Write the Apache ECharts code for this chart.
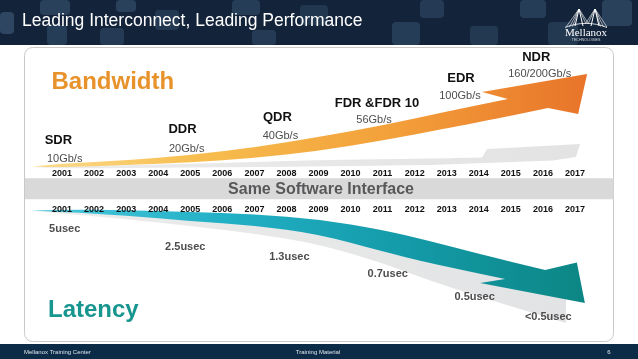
<!DOCTYPE html>
<html>
<head>
<meta charset="utf-8">
<script src="https://cdn.jsdelivr.net/npm/echarts@6/dist/echarts.min.js"></script>
<style>html,body{margin:0;padding:0;background:#fff}#chart{width:638px;height:359px}</style>
</head>
<body>
<div id="chart"></div>
<script>
// ---------- data ----------
const years = [2001,2002,2003,2004,2005,2006,2007,2008,2009,2010,2011,2012,2013,2014,2015,2016,2017];
const generations = ['SDR','DDR','QDR','FDR &FDR 10','EDR','NDR'];
const speeds = ['10Gb/s','20Gb/s','40Gb/s','56Gb/s','100Gb/s','160/200Gb/s'];
const generationYears = [2001,2005,2008,2011,2014,2016];
const latencies = ['5usec','2.5usec','1.3usec','0.7usec','0.5usec','<0.5usec'];
const latencyYears = [2001,2005,2008,2011,2014,2016];

// ---------- layout (label placement) ----------
const nameLift = [27,38,49.8,63.5,88.2,109.2];
const nameNudge = [-3.7,-7.8,-9.1,-5.6,-17.8,-6.6];
const speedLift = [8.2,18.2,31.5,47.3,70.7,93.3];
const speedNudge = [2.6,-3.6,-6,-8.6,-18.8,-3.2];
const latencyDrop = [13.2,30.7,40.5,58.2,80.7,101];
const latencyNudge = [2.6,-5,2.9,5.1,-4.1,5.4];

// ---------- arrow outlines in [year, level] ----------
const orangeTop = [[2000.06,0.5],[2001,3.7],[2003,6.5],[2005,11.9],[2007,19.6],[2009,30.1],[2011,41.6],[2013,55.5],[2014.91,68]];
const orangeHead = [[2014.1,75],[2017.38,93],[2017.1,53],[2016.16,59]];
const orangeBottom = [[2015,51.2],[2014,44.8],[2013,38.5],[2011,26.5],[2009,16.1],[2007,9],[2005,4.7],[2003,1.8],[2001,-0.4],[2000.06,0.5]];

const orangeShadowTop = [[2000.06,0],[2001,0.5],[2005,3],[2009,7],[2012.5,8.5],[2014.1,9.5]];
const orangeShadowHead = [[2014.26,18],[2017.16,23],[2017.03,10],[2016.32,6.5]];
const orangeShadowBottom = [[2012.5,2],[2009,0.5],[2005,-0.5],[2001,-1.5],[2000.06,0]];

const tealTop = [[2000.03,-5.5],[2001,-6.4],[2003,-5.9],[2005,-4.3],[2007,-1.7],[2009,3.1],[2011,13.8],[2012.5,25.2],[2014,37.9],[2016.07,54]];
const tealHead = [[2017.06,46.5],[2017.31,87],[2014.04,67],[2014.82,63]];
const tealBottom = [[2014,57.4],[2012.5,47.2],[2011,35.6],[2009,18.1],[2007,9.5],[2005,5.1],[2003,-0.8],[2001,-3.9],[2000.03,-5.5]];

const tealShadowTop = [[2000.03,-5],[2001,-5],[2005,-1],[2009,8],[2012.5,30],[2014,48],[2016.72,80]];
const tealShadowHead = [[2016.72,107]];
const tealShadowBottom = [[2015.29,93],[2014,80.5],[2012.5,65],[2011,47],[2009,28],[2007,17.5],[2005,10],[2003,3],[2001,-2.5],[2000.03,-5]];

// ---------- helpers ----------
const FONT = '"Liberation Sans", Arial, Helvetica, sans-serif';
function smoothRun(P) {
  let s = '';
  for (let i = 1; i < P.length - 1; i++) {
    const mx = (P[i][0] + P[i + 1][0]) / 2, my = (P[i][1] + P[i + 1][1]) / 2;
    s += ' Q' + P[i][0] + ' ' + P[i][1] + ' ' + mx + ' ' + my;
  }
  const L = P[P.length - 1];
  s += ' L' + L[0] + ' ' + L[1];
  return s;
}
function outline(api, top, head, bottom) {
  const T = top.map(p => api.coord(p));
  const H = head.map(p => api.coord(p));
  const B = bottom.map(p => api.coord(p));
  let d = 'M' + T[0][0] + ' ' + T[0][1] + smoothRun(T);
  H.forEach(p => { d += ' L' + p[0] + ' ' + p[1]; });
  d += ' L' + B[0][0] + ' ' + B[0][1] + smoothRun(B);
  return d + ' Z';
}
function arrowSeries(gridIdx, top, head, bottom, fill) {
  return {
    type: 'custom', xAxisIndex: gridIdx, yAxisIndex: gridIdx, clip: false, silent: true,
    data: top,
    renderItem: (params, api) => {
      if (params.dataIndex !== 0) return null;
      return { type: 'path', shape: { pathData: outline(api, top, head, bottom) }, style: { fill: fill } };
    }
  };
}
function textSeries(gridIdx, xs, ys, texts, nudges, font, color) {
  return {
    type: 'custom', xAxisIndex: gridIdx, yAxisIndex: gridIdx, clip: false, silent: true, z: 5,
    data: xs.map((x, i) => [x, ys[i]]),
    renderItem: (params, api) => {
      const i = params.dataIndex;
      const p = api.coord([api.value(0), api.value(1)]);
      return { type: 'text', x: p[0] + nudges[i], y: p[1],
        style: { text: texts[i], fill: color, font: font, align: 'center', verticalAlign: 'middle' } };
    }
  };
}
const grad = (stops) => new echarts.graphic.LinearGradient(0, 0, 1, 0, stops.map((c, i) => ({ offset: c[0], color: c[1] })));

// ---------- header decoration ----------
const bokeh = [
  [0,12,14,22,0.30],[40,0,30,15,0.25],[47,25,20,20,0.22],[100,28,24,17,0.20],[116,0,20,12,0.25],
  [155,10,24,20,0.18],[232,0,28,15,0.22],[252,30,24,15,0.20],[300,5,28,20,0.16],[392,22,28,23,0.22],
  [420,0,24,18,0.20],[470,26,28,19,0.18],[520,0,26,18,0.22],[548,22,30,23,0.18],[602,0,30,26,0.25]
];
const graphics = [
  { type: 'rect', shape: { x: 0, y: 0, width: 638, height: 45 }, style: { fill: '#13243a' }, silent: true },
  ...bokeh.map(b => ({ type: 'rect', shape: { x: b[0], y: b[1], width: b[2], height: b[3], r: 4 }, style: { fill: 'rgba(110,150,190,' + b[4] + ')' }, silent: true })),
  { type: 'text', x: 22, y: 21, style: { text: 'Leading Interconnect, Leading Performance', fill: '#ffffff', font: '17.5px ' + FONT, verticalAlign: 'middle' } },
  // logo
  { type: 'polyline', shape: { points: [[575,26],[579,9],[583,26]] }, style: { stroke: '#fff', lineWidth: 1, fill: null } },
  { type: 'polyline', shape: { points: [[591,26],[595,9],[599,26]] }, style: { stroke: '#fff', lineWidth: 1, fill: null } },
  ...[[566,27],[569.5,27],[572.5,26.5],[586,24],[588,23]].map(e => ({ type: 'line', shape: { x1: 579, y1: 9, x2: e[0], y2: e[1] }, style: { stroke: '#fff', lineWidth: 0.6 } })),
  ...[[586,23],[588,24],[600.5,26.5],[603.5,27],[607,27]].map(e => ({ type: 'line', shape: { x1: 595, y1: 9, x2: e[0], y2: e[1] }, style: { stroke: '#fff', lineWidth: 0.6 } })),
  { type: 'bezierCurve', shape: { x1: 565, y1: 27.5, cpx1: 578, cpy1: 22, cpx2: 594, cpy2: 22, x2: 607, y2: 27.5 }, style: { stroke: '#fff', lineWidth: 0.8, fill: null } },
  { type: 'text', x: 586, y: 33, style: { text: 'Mellanox', fill: '#fff', font: '11px "Liberation Serif", "DejaVu Serif", serif', align: 'center', verticalAlign: 'middle' } },
  { type: 'text', x: 586, y: 39.5, style: { text: 'TECHNOLOGIES', fill: '#d8dde4', font: '3.6px ' + FONT, align: 'center', verticalAlign: 'middle' } },
  // panel
  { type: 'rect', shape: { x: 24.5, y: 47.5, width: 589, height: 294, r: 8 }, style: { fill: '#ffffff', stroke: '#c9c9c9', lineWidth: 1 }, silent: true },
  { type: 'rect', shape: { x: 25, y: 178.3, width: 588.5, height: 21 }, style: { fill: '#d9d9d9' }, silent: true },
  { type: 'text', x: 321, y: 189.5, style: { text: 'Same Software Interface', fill: '#58585a', font: 'bold 16px ' + FONT, align: 'center', verticalAlign: 'middle' } },
  { type: 'text', x: 51.5, y: 82, style: { text: 'Bandwidth', fill: '#e8922c', font: 'bold 24px ' + FONT, verticalAlign: 'middle' } },
  { type: 'text', x: 48, y: 310, style: { text: 'Latency', fill: '#17958f', font: 'bold 24px ' + FONT, verticalAlign: 'middle' } },
  // footer
  { type: 'rect', shape: { x: 0, y: 344, width: 638, height: 15 }, style: { fill: '#0c2b47' }, silent: true },
  { type: 'text', x: 24, y: 352, style: { text: 'Mellanox Training Center', fill: '#dfe5ec', font: '6px ' + FONT, verticalAlign: 'middle' } },
  { type: 'text', x: 318, y: 352, style: { text: 'Training Material', fill: '#dfe5ec', font: '6px ' + FONT, align: 'center', verticalAlign: 'middle' } },
  { type: 'text', x: 609, y: 352, style: { text: '6', fill: '#dfe5ec', font: '6px ' + FONT, align: 'center', verticalAlign: 'middle' } }
];

const yearLabel = (margin) => ({
  show: true, margin: margin, fontSize: 9, fontWeight: 'bold', color: '#111', fontFamily: FONT,
  formatter: v => (years.indexOf(v) >= 0 ? String(v) : '')
});

const option = {
  animation: false,
  textStyle: { fontFamily: FONT },
  grid: [
    { left: 30, right: 31, top: 48, height: 119 },
    { left: 30, right: 31, top: 216, bottom: 16 }
  ],
  xAxis: [
    { gridIndex: 0, type: 'value', min: 2000, max: 2018, interval: 1, position: 'bottom', z: 6,
      axisLine: { show: false }, axisTick: { show: false }, splitLine: { show: false }, axisLabel: yearLabel(2) },
    { gridIndex: 1, type: 'value', min: 2000, max: 2018, interval: 1, position: 'top', z: 6,
      axisLine: { show: false }, axisTick: { show: false }, splitLine: { show: false }, axisLabel: yearLabel(2) }
  ],
  yAxis: [
    { gridIndex: 0, type: 'value', min: 0, max: 119, show: false },
    { gridIndex: 1, type: 'value', min: 0, max: 127, inverse: true, show: false }
  ],
  graphic: graphics,
  series: [
    arrowSeries(0, orangeShadowTop, orangeShadowHead, orangeShadowBottom, grad([[0,'#ececec'],[1,'#e3e3e3']])),
    arrowSeries(1, tealShadowTop, tealShadowHead, tealShadowBottom, grad([[0,'#ececec'],[1,'#e2e3e4']])),
    arrowSeries(0, orangeTop, orangeHead, orangeBottom, grad([[0,'#fbdc8e'],[0.3,'#f7bd4e'],[0.65,'#f3a03a'],[1,'#e8742a']])),
    arrowSeries(1, tealTop, tealHead, tealBottom, grad([[0,'#4cc8dc'],[0.35,'#22b0c6'],[0.7,'#1399a6'],[1,'#0c8684']])),
    textSeries(0, generationYears, nameLift, generations, nameNudge, 'bold 13px ' + FONT, '#111111'),
    textSeries(0, generationYears, speedLift, speeds, speedNudge, '11px ' + FONT, '#4d4d4d'),
    textSeries(1, latencyYears, latencyDrop, latencies, latencyNudge, 'bold 11px ' + FONT, '#4d4d4d')
  ]
};

const chart = echarts.init(document.getElementById('chart'), null, { renderer: 'canvas' });
chart.setOption(option);
</script>
</body>
</html>
